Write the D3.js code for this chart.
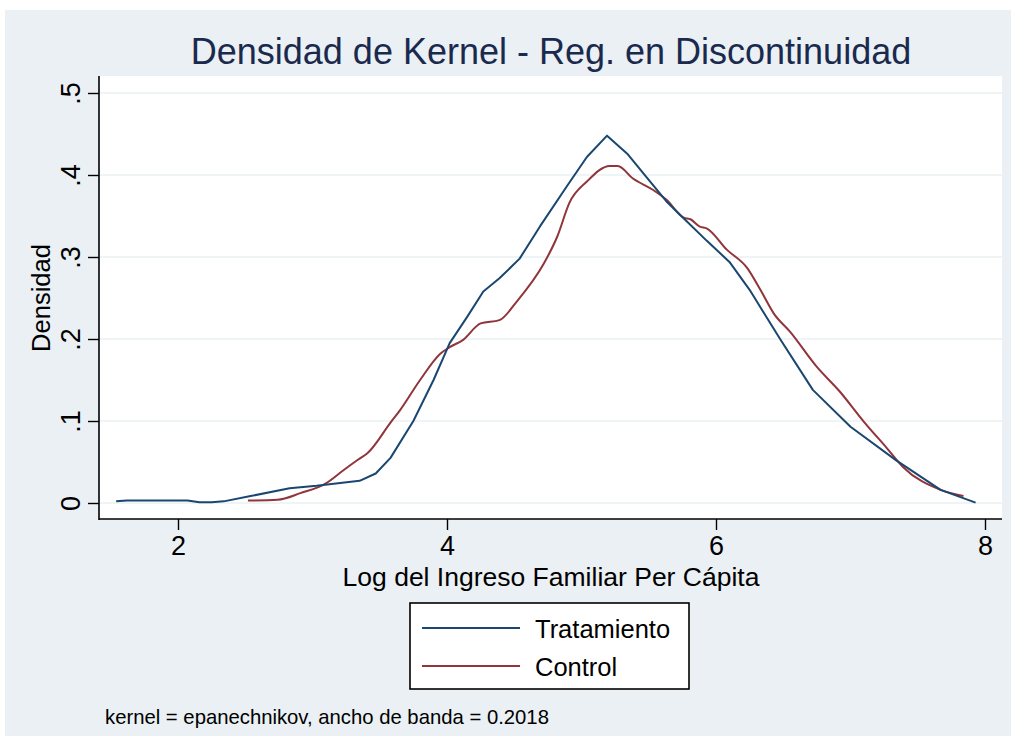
<!DOCTYPE html>
<html>
<head>
<meta charset="utf-8">
<script src="https://cdn.jsdelivr.net/npm/d3@7"></script>
<style>
  html, body { margin: 0; padding: 0; background: #ffffff; }
  svg { display: block; }
  text { font-family: "Liberation Sans", Arial, sans-serif; }
</style>
</head>
<body>
<svg id="chart" width="1011" height="736"></svg>
<script>
// ---- data ----
const tratX = [1.54, 1.62, 2.07, 2.16, 2.25, 2.34, 2.54, 2.83, 3.03, 3.35, 3.47, 3.58, 3.75, 3.90, 4.02, 4.15, 4.27, 4.39, 4.54, 4.69, 4.89, 5.04, 5.19, 5.34, 5.48, 5.63, 5.78, 5.93, 6.10, 6.25, 6.48, 6.72, 7.00, 7.34, 7.67, 7.93];
const tratY = [0.002, 0.003, 0.003, 0.001, 0.001, 0.002, 0.0085, 0.018, 0.021, 0.027, 0.036, 0.055, 0.100, 0.150, 0.195, 0.227, 0.258, 0.274, 0.298, 0.337, 0.386, 0.422, 0.448, 0.426, 0.398, 0.368, 0.344, 0.320, 0.294, 0.260, 0.199, 0.138, 0.093, 0.052, 0.016, 0.0004];

const ctrlX = [2.52, 2.74, 2.91, 3.10, 3.23, 3.34, 3.41, 3.58, 3.65, 3.80, 3.95, 4.02, 4.12, 4.25, 4.39, 4.52, 4.72, 4.82, 4.91, 5.04, 5.21, 5.27, 5.38, 5.53, 5.63, 5.76, 5.81, 5.88, 5.93, 6.08, 6.23, 6.33, 6.43, 6.55, 6.75, 6.92, 7.10, 7.27, 7.39, 7.67, 7.84];
const ctrlY = [0.003, 0.004, 0.012, 0.024, 0.040, 0.053, 0.061, 0.098, 0.113, 0.150, 0.182, 0.190, 0.199, 0.219, 0.223, 0.246, 0.292, 0.325, 0.366, 0.392, 0.411, 0.411, 0.396, 0.382, 0.370, 0.348, 0.346, 0.337, 0.335, 0.309, 0.287, 0.260, 0.231, 0.209, 0.166, 0.136, 0.099, 0.067, 0.044, 0.016, 0.0085];

const xTicks = [2, 4, 6, 8];
const yTicks = [0, 0.1, 0.2, 0.3, 0.4, 0.5];
const yTickLabels = ["0", ".1", ".2", ".3", ".4", ".5"];
const seriesNames = ["Tratamiento", "Control"];
const seriesColors = ["#1a476f", "#90353b"];

const titleText = "Densidad de Kernel - Reg. en Discontinuidad";
const xTitle = "Log del Ingreso Familiar Per Cápita";
const yTitle = "Densidad";
const noteText = "kernel = epanechnikov, ancho de banda = 0.2018";

// ---- layout ----
const svg = d3.select("#chart");
const W = 1011, H = 736;
const plot = { left: 99, right: 1002, top: 76, bottom: 519 };

const x = d3.scaleLinear().domain([2, 8]).range([178, 985]);
const y = d3.scaleLinear().domain([0, 0.5]).range([503, 93]);

// outer background
svg.append("rect").attr("x", 0).attr("y", 0).attr("width", W).attr("height", H).attr("fill", "#ffffff");
svg.append("rect").attr("x", 5).attr("y", 10).attr("width", W - 5).attr("height", H - 10).attr("fill", "#eaf0f3");

// plot region
svg.append("rect")
  .attr("x", plot.left).attr("y", plot.top)
  .attr("width", plot.right - plot.left).attr("height", plot.bottom - plot.top)
  .attr("fill", "#ffffff");

// gridlines
svg.append("g").selectAll("line").data(yTicks).join("line")
  .attr("x1", plot.left + 1).attr("x2", plot.right)
  .attr("y1", d => y(d)).attr("y2", d => y(d))
  .attr("stroke", "#eaf0f3").attr("stroke-width", 1.6);

// curves
const tratData = tratX.map((v, i) => [v, tratY[i]]);
const ctrlData = ctrlX.map((v, i) => [v, ctrlY[i]]);
const lineLin = d3.line().x(d => x(d[0])).y(d => y(d[1])).curve(d3.curveLinear);
const lineSmooth = d3.line().x(d => x(d[0])).y(d => y(d[1])).curve(d3.curveMonotoneX);
svg.append("path").datum(ctrlData).attr("d", lineSmooth)
  .attr("fill", "none").attr("stroke", seriesColors[1]).attr("stroke-width", 2).attr("stroke-linejoin", "round");
svg.append("path").datum(tratData).attr("d", lineLin)
  .attr("fill", "none").attr("stroke", seriesColors[0]).attr("stroke-width", 2).attr("stroke-linejoin", "round");

// x axis
const xAxis = d3.axisBottom(x).tickValues(xTicks).tickSize(11).tickPadding(6).tickFormat(d3.format("d"));
const gx = svg.append("g").attr("transform", `translate(0,${plot.bottom})`).call(xAxis);
gx.select(".domain").remove();
gx.selectAll(".tick line").attr("stroke", "#000").attr("stroke-width", 1.4);
gx.selectAll(".tick text").attr("font-size", 27).attr("fill", "#000")
  .attr("font-family", "Liberation Sans, Arial, sans-serif");
svg.append("line").attr("x1", plot.left).attr("x2", plot.right)
  .attr("y1", plot.bottom).attr("y2", plot.bottom)
  .attr("stroke", "#000").attr("stroke-width", 1.6);

// y axis
const yAxis = d3.axisLeft(y).tickValues(yTicks).tickSize(11).tickFormat((d, i) => yTickLabels[i]);
const gy = svg.append("g").attr("transform", `translate(${plot.left},0)`).call(yAxis);
gy.select(".domain").remove();
gy.selectAll(".tick line").attr("stroke", "#000").attr("stroke-width", 1.4);
gy.selectAll(".tick text")
  .attr("x", null).attr("dy", null)
  .attr("transform", "translate(-19,0) rotate(-90)")
  .attr("text-anchor", "middle")
  .attr("font-size", 27).attr("fill", "#000")
  .attr("font-family", "Liberation Sans, Arial, sans-serif");
svg.append("line").attr("x1", plot.left).attr("x2", plot.left)
  .attr("y1", plot.top).attr("y2", plot.bottom + 1)
  .attr("stroke", "#000").attr("stroke-width", 1.6);

// titles
svg.append("text").attr("x", 551).attr("y", 64).attr("text-anchor", "middle")
  .attr("font-size", 36).attr("fill", "#1a2a4e").text(titleText);
svg.append("text").attr("x", 551).attr("y", 586).attr("text-anchor", "middle")
  .attr("font-size", 26.5).attr("fill", "#000").text(xTitle);
svg.append("text").attr("transform", "translate(50,298) rotate(-90)").attr("text-anchor", "middle")
  .attr("font-size", 25.5).attr("fill", "#000").text(yTitle);

// legend
const lg = svg.append("g");
lg.append("rect").attr("x", 410).attr("y", 603).attr("width", 279).attr("height", 86)
  .attr("fill", "#ffffff").attr("stroke", "#000").attr("stroke-width", 1.6);
const legY = [628, 666];
seriesNames.forEach((name, i) => {
  lg.append("line").attr("x1", 422).attr("x2", 520).attr("y1", legY[i]).attr("y2", legY[i])
    .attr("stroke", seriesColors[i]).attr("stroke-width", 2);
  lg.append("text").attr("x", 535).attr("y", legY[i] + 9.5)
    .attr("font-size", 25.5).attr("fill", "#000").text(name);
});

// note
svg.append("text").attr("x", 105).attr("y", 724).attr("font-size", 20.3).attr("fill", "#000").text(noteText);
</script>
</body>
</html>
